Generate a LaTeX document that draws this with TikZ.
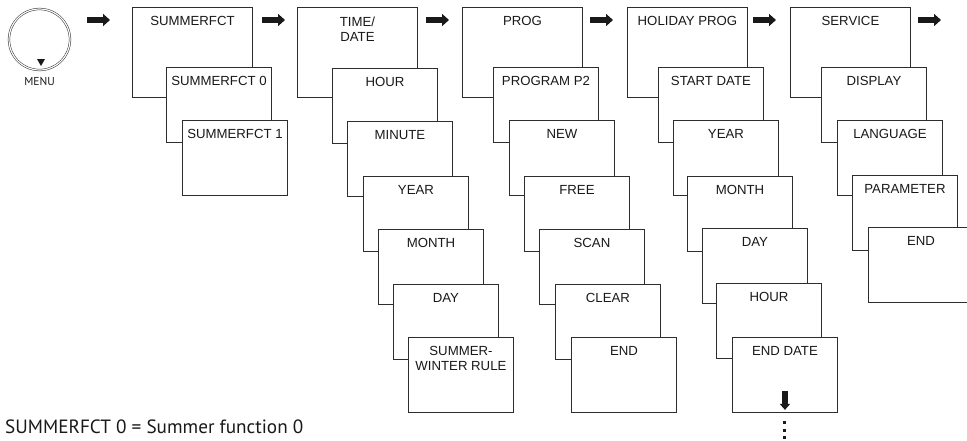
\documentclass[tikz,border=0pt]{standalone}
\usepackage{fontspec}
\setmainfont{Liberation Sans}
\newfontfamily\condfont{PT Sans}
\usetikzlibrary{arrows.meta}
\definecolor{boxline}{RGB}{45, 45, 45}

\begin{document}
\begin{tikzpicture}[
        x=1pt, y=-1pt,
        topbox/.style={draw=boxline, line width=0.9pt, fill=white, anchor=north west,
            minimum width=120pt, minimum height=90pt, inner sep=0pt},
        subbox/.style={draw=boxline, line width=0.9pt, fill=white, anchor=north west,
            minimum width=105pt, minimum height=75pt, inner sep=0pt},
        boxtxt/.style={font=\fontsize{13.2}{15}\selectfont, align=center, anchor=north,
            inner sep=0pt, yshift=-9.5pt, text=black!90},
        navarrow/.style={line width=6pt, black!90, -{Triangle[width=12pt, length=7pt]}}
    ]

    % Page size of the reference
    \useasboundingbox (0, 0) rectangle (967, 440);

    % MENU knob
    \node[circle, draw=boxline, double, double distance=1.2pt, line width=0.5pt,
        minimum size=61pt, inner sep=0pt] (menu) at (39.5, 39.5) {};
    \fill[black!90] (37, 59) -- (45, 59) -- (41, 66) -- cycle;
    \node[font=\condfont\fontsize{11.5}{13}\selectfont, anchor=base, text=black!90]
        (menutxt) at (39.5, 85.5) {MENU};

    % Arrows between the top level entries
    \foreach \x in {87, 262, 426, 590, 753, 918}
        \draw[navarrow] (\x, 20) -- ++(23, 0);

    % === SUMMERFCT ===
    \node[topbox] (summ) at (132, 7) {};
    \node[boxtxt] (summ-t) at (summ.north) {SUMMERFCT};
    \foreach \n/\x/\y/\t in {summ0/166/67/SUMMERFCT 0, summ1/182/120/SUMMERFCT 1}
    {
        \node[subbox] (\n) at (\x, \y) {};
        \node[boxtxt] (\n-t) at (\n.north) {\t};
    }

    % === TIME/DATE ===
    \node[topbox] (time) at (297, 7) {};
    \node[boxtxt] (time-t) at (time.north) {TIME/\\DATE};
    \foreach \n/\x/\y/\t in {hour/332/68/HOUR, min/347/121/MINUTE, year/363/176/YEAR,
        month/378/229/MONTH, day/393/284/DAY, rule/408/337/{SUMMER-\\WINTER RULE}}
    {
        \node[subbox] (\n) at (\x, \y) {};
        \node[boxtxt] (\n-t) at (\n.north) {\t};
    }

    % === PROG ===
    \node[topbox] (prog) at (462, 7) {};
    \node[boxtxt] (prog-t) at (prog.north) {PROG};
    \foreach \n/\x/\y/\t in {pp2/493/67/PROGRAM P2, new/509/120/NEW, free/524/176/FREE,
        scan/539/229/SCAN, clear/555/284/CLEAR, pend/571/337/END}
    {
        \node[subbox] (\n) at (\x, \y) {};
        \node[boxtxt] (\n-t) at (\n.north) {\t};
    }

    % === HOLIDAY PROG ===
    \node[topbox] (hol) at (627, 7) {};
    \node[boxtxt] (hol-t) at (hol.north) {HOLIDAY PROG};
    \foreach \n/\x/\y/\t in {start/658/67/START DATE, hyear/673/120/YEAR, hmonth/687/176/MONTH,
        hday/702/228/DAY, hhour/716/283/HOUR, enddate/732/337/END DATE}
    {
        \node[subbox] (\n) at (\x, \y) {};
        \node[boxtxt] (\n-t) at (\n.north) {\t};
    }

    % more entries follow below END DATE
    \draw[line width=6pt, black!90, -{Triangle[width=10pt, length=6pt]}]
        ([yshift=22pt]enddate.south) -- ([yshift=3pt]enddate.south);
    \foreach \y in {422, 430, 437}
        \fill[black!90] (783, \y-1.5) rectangle ++(3.2, 3.2);

    % === SERVICE ===
    \node[topbox] (serv) at (790, 7) {};
    \node[boxtxt] (serv-t) at (serv.north) {SERVICE};
    \foreach \n/\x/\y/\t in {disp/821/67/DISPLAY, lang/837/120/LANGUAGE,
        para/852/175/PARAMETER, send/868/227/END}
    {
        \node[subbox] (\n) at (\x, \y) {};
        \node[boxtxt] (\n-t) at (\n.north) {\t};
    }

    % Footnote
    \node[font=\condfont\fontsize{19.2}{21}\selectfont, anchor=base west, inner sep=0pt,
        text=black!90] (note) at (5, 433) {SUMMERFCT 0 = Summer function 0};

\end{tikzpicture}
\end{document}
